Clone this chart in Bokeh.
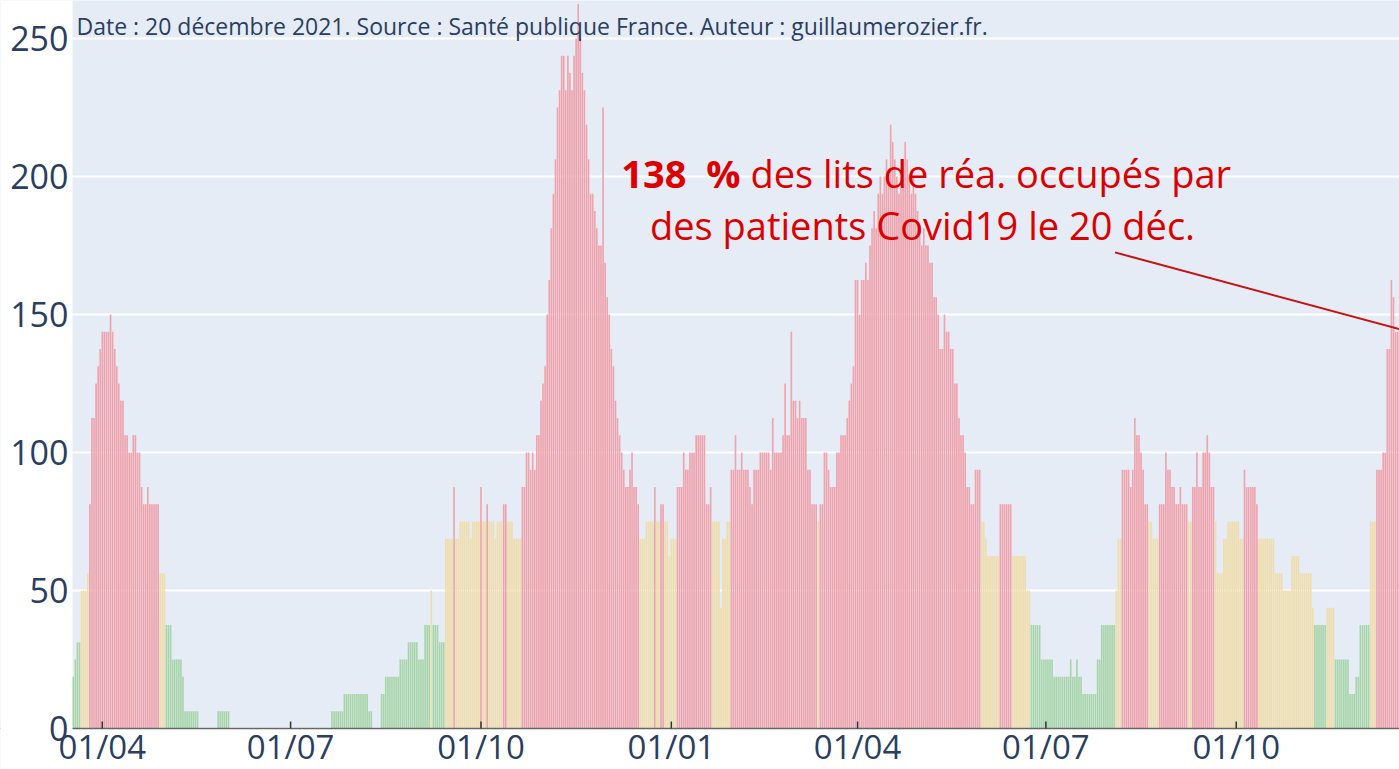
import numpy as np
import pandas as pd
from bokeh.plotting import figure
from bokeh.models import (ColumnDataSource, Label, Arrow, Range1d, BoxAnnotation, Span)
from bokeh.embed import file_html
from bokeh.resources import INLINE

# ---------------- data ----------------
START_DATE = "2020-03-18"
LITS_REA = 16  # lits de réanimation du département
# patients Covid19 en réanimation, un chiffre par jour depuis le 18/03/2020
patients = [
    3, 4, 5, 5, 8, 8, 8, 9, 13, 18,
    18, 20, 21, 22, 23, 23, 23, 23, 24, 23,
    22, 21, 20, 19, 19, 17, 17, 16, 16, 17,
    17, 16, 16, 14, 13, 13, 14, 13, 13, 13,
    13, 13, 9, 9, 9, 6, 6, 6, 4, 4,
    4, 4, 4, 3, 1, 1, 1, 1, 1, 1,
    1, 0, 0, 0, 0, 0, 0, 0, 0, 0,
    1, 1, 1, 1, 1, 1, 0, 0, 0, 0,
    0, 0, 0, 0, 0, 0, 0, 0, 0, 0,
    0, 0, 0, 0, 0, 0, 0, 0, 0, 0,
    0, 0, 0, 0, 0, 0, 0, 0, 0, 0,
    0, 0, 0, 0, 0, 0, 0, 0, 0, 0,
    0, 0, 0, 0, 0, 1, 1, 1, 1, 1,
    1, 2, 2, 2, 2, 2, 2, 2, 2, 2,
    2, 2, 2, 1, 1, 0, 0, 0, 0, 2,
    2, 3, 3, 3, 3, 3, 3, 3, 4, 4,
    4, 4, 5, 5, 5, 5, 5, 4, 4, 4,
    6, 6, 6, 8, 6, 6, 6, 5, 5, 5,
    11, 11, 11, 11, 14, 11, 11, 12, 12, 12,
    12, 12, 11, 12, 12, 12, 12, 14, 12, 12,
    13, 12, 12, 12, 11, 12, 12, 12, 13, 13,
    12, 12, 12, 11, 11, 11, 11, 14, 14, 16,
    16, 15, 16, 15, 17, 17, 19, 20, 21, 24,
    26, 29, 31, 33, 36, 37, 39, 39, 37, 39,
    38, 37, 39, 40, 42, 40, 38, 37, 35, 33,
    31, 31, 30, 29, 28, 28, 36, 27, 25, 24,
    22, 21, 19, 18, 17, 16, 15, 14, 14, 15,
    16, 14, 14, 13, 11, 11, 11, 12, 12, 12,
    12, 14, 12, 12, 13, 13, 12, 12, 10, 11,
    11, 11, 14, 14, 14, 16, 15, 15, 16, 16,
    16, 17, 17, 17, 17, 17, 13, 13, 14, 12,
    12, 12, 12, 7, 11, 11, 12, 12, 15, 15,
    17, 15, 15, 16, 15, 15, 15, 14, 13, 15,
    15, 15, 16, 16, 16, 16, 16, 15, 18, 16,
    16, 16, 16, 17, 20, 17, 17, 23, 19, 19,
    18, 19, 18, 18, 18, 15, 15, 13, 13, 13,
    12, 13, 13, 16, 16, 15, 14, 14, 14, 16,
    16, 17, 17, 17, 18, 19, 20, 21, 26, 26,
    24, 26, 26, 27, 26, 28, 29, 30, 29, 31,
    32, 31, 32, 33, 32, 35, 34, 33, 32, 31,
    32, 33, 34, 33, 32, 31, 32, 31, 30, 29,
    28, 29, 28, 28, 27, 27, 25, 25, 24, 22,
    22, 24, 23, 23, 22, 22, 20, 20, 18, 17,
    17, 16, 14, 14, 13, 13, 15, 15, 15, 12,
    12, 11, 10, 10, 10, 10, 10, 10, 13, 13,
    13, 13, 13, 13, 10, 10, 10, 10, 10, 10,
    10, 8, 8, 6, 6, 6, 6, 6, 4, 4,
    4, 4, 4, 4, 3, 3, 3, 3, 3, 3,
    3, 3, 4, 3, 3, 4, 3, 3, 2, 2,
    2, 2, 2, 2, 2, 4, 4, 6, 6, 6,
    6, 6, 6, 6, 8, 11, 11, 15, 15, 15,
    15, 14, 15, 18, 17, 17, 16, 15, 13, 13,
    12, 12, 11, 11, 11, 13, 13, 13, 16, 15,
    15, 14, 14, 13, 13, 14, 13, 13, 13, 12,
    12, 14, 14, 16, 14, 14, 16, 16, 17, 16,
    14, 14, 12, 9, 9, 9, 11, 11, 12, 12,
    12, 12, 12, 12, 11, 11, 15, 14, 14, 14,
    14, 14, 13, 11, 11, 11, 11, 11, 11, 11,
    11, 9, 9, 9, 9, 8, 8, 8, 8, 10,
    10, 10, 10, 9, 9, 9, 9, 9, 9, 7,
    6, 6, 6, 6, 6, 6, 7, 7, 7, 7,
    4, 4, 4, 4, 4, 4, 4, 2, 2, 2,
    3, 3, 6, 6, 6, 6, 6, 12, 12, 12,
    15, 15, 15, 16, 16, 22, 22, 26, 25, 23,
    23, 23, 22,
]
TICK_DATES = ["2020-04-01", "2020-07-01", "2020-10-01", "2021-01-01",
              "2021-04-01", "2021-07-01", "2021-10-01"]
Y_TICKS = [0, 50, 100, 150, 200, 250]
THRESHOLDS = [40, 80]  # vert < 40 % <= jaune <= 80 % < rouge
SOURCE_TEXT = "Date : 20 décembre 2021. Source : Santé publique France. Auteur : guillaumerozier.fr."

# ---------------- style ----------------
BG = "#E5ECF6"
GREEN = "#A8D5AA"
YELLOW = "#EFDDAB"
RED = "#EFA3AD"
FONT = "Open Sans"
INK = "#2a3f5f"
ANN_RED = "#DD0000"
DAY_MS = 86400000
W, H = 1399, 769
LEFT = 72                       # width of the y-label margin
ZERO_PX = 728                   # zero line, from the top
PX_PER_UNIT = 2.76              # vertical scale
PX_PER_DAY = 2.0693             # horizontal scale
Y_TOP = ZERO_PX / PX_PER_UNIT
Y_BOTTOM = -(H - ZERO_PX) / PX_PER_UNIT

dates = pd.date_range(START_DATE, periods=len(patients), freq="D")
pct = np.array(patients, dtype=float) / LITS_REA * 100
colors = np.where(pct > THRESHOLDS[1], RED, np.where(pct >= THRESHOLDS[0], YELLOW, GREEN))
src = ColumnDataSource(dict(x=dates, top=pct, color=colors))

t0 = dates[0]
def day(off):
    return t0 + pd.Timedelta(days=off)

plot_left = day(-0.4)           # left edge of the coloured plot area
p = figure(width=W, height=H, x_axis_type="datetime",
           x_axis_location=None, y_axis_location=None,
           output_backend="svg", toolbar_location=None,
           x_range=Range1d(day(-0.4 - LEFT / PX_PER_DAY), day(640.9)),
           y_range=Range1d(Y_BOTTOM, Y_TOP),
           min_border_left=0, min_border_right=0, min_border_top=0, min_border_bottom=0)
p.background_fill_color = BG
p.border_fill_color = "white"
p.outline_line_color = None
p.xgrid.grid_line_color = None
p.ygrid.grid_line_color = None

# horizontal grid lines
for v in Y_TICKS:
    p.add_layout(Span(location=v, dimension="width", line_color="white", line_width=2, level="underlay"))
# white margins: left (y labels) and under the zero line (date labels)
p.add_layout(BoxAnnotation(right=plot_left, fill_color="white", fill_alpha=1, line_color=None, level="underlay"))
p.add_layout(BoxAnnotation(top=0, fill_color="white", fill_alpha=1, line_color=None, level="underlay"))

p.vbar(x="x", top="top", width=0.8 * DAY_MS, color="color", line_color=None, source=src)

# x axis line, ticks, labels
p.add_layout(Span(location=0, dimension="width", line_color="#666666", line_width=1.5))
p.add_layout(BoxAnnotation(right=plot_left, top=1, bottom=-1, fill_color="white", fill_alpha=1,
                           line_color=None))
tick_ts = [pd.Timestamp(d) for d in TICK_DATES]
p.segment(x0=tick_ts, x1=tick_ts, y0=[0] * len(tick_ts), y1=[7 / PX_PER_UNIT] * len(tick_ts),
          line_color="#333333", line_width=1.5, level="overlay")
for t in tick_ts:
    p.add_layout(Label(x=t, y=-18 / PX_PER_UNIT, text=t.strftime("%d/%m"), text_font=FONT,
                       text_font_size="33px", text_color=INK,
                       text_align="center", text_baseline="middle"))

# y labels
for v in Y_TICKS:
    p.add_layout(Label(x=plot_left, y=v, x_offset=-4, text=str(v), text_font=FONT,
                       text_font_size="34px", text_color=INK,
                       text_align="right", text_baseline="middle"))

# annotations
p.add_layout(Label(x=plot_left, y=254.7, x_offset=4, text=SOURCE_TEXT, text_font=FONT,
                   text_font_size="23px", text_color=INK, text_baseline="middle",
                   text_align="left"))

last_pct = pct[-1]
p.add_layout(Label(x=day(322.4), y=201.4, text=f"{round(last_pct)}\u00a0\u00a0%", text_font=FONT,
                   text_font_size="38px", text_font_style="bold", text_color=ANN_RED,
                   text_baseline="middle", text_align="right"))
p.add_layout(Label(x=day(322.4), y=201.4, x_offset=10, text="des lits de réa. occupés par",
                   text_font=FONT, text_font_size="38px", text_color=ANN_RED,
                   text_baseline="middle", text_align="left"))
p.add_layout(Label(x=day(410.4), y=182.6, text=f"des patients Covid19 le {dates[-1].day} déc.",
                   text_font=FONT, text_font_size="38px", text_color=ANN_RED,
                   text_baseline="middle", text_align="center"))
p.add_layout(Arrow(end=None, x_start=day(503.4), y_start=172.5,
                   x_end=dates[-1], y_end=last_pct + 7,
                   line_color="#C81010", line_width=2))

open("out.html", "w").write(file_html(p, INLINE))
